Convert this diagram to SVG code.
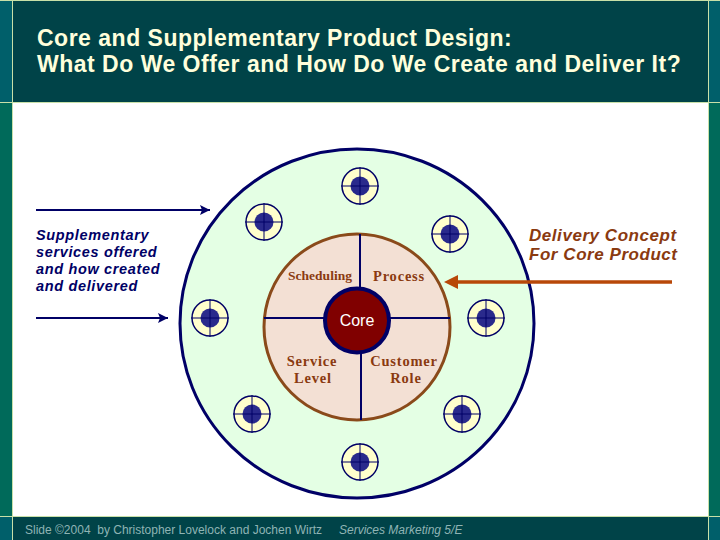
<svg xmlns="http://www.w3.org/2000/svg" width="720" height="540" viewBox="0 0 720 540">
<style>
.title{font:bold 23px "Liberation Sans",Arial,sans-serif;fill:#ffffdc;letter-spacing:.5px}
.side{font:italic bold 14.500px "Liberation Sans",Arial,sans-serif;fill:#000066;letter-spacing:.65px}
.del{font:italic bold 17px "Liberation Sans",Arial,sans-serif;fill:#8a3a10;letter-spacing:.55px}
.ser{font:bold 14.500px "Liberation Serif","Times New Roman",serif;fill:#8a3a10;text-anchor:middle;letter-spacing:.8px}
.foot{font:12px "Liberation Sans",Arial,sans-serif;fill:#8fb4b4}
.sp{stroke:#000066;stroke-width:2;fill:none}
.thin{stroke:#000066;stroke-width:1;fill:none}
.o{fill:#ffffcc;stroke:#000066;stroke-width:1.5}
.i{fill:#2a2a8c}
</style>
<defs>
<marker id="nav" markerWidth="10" markerHeight="10" refX="10" refY="5" orient="auto" markerUnits="userSpaceOnUse"><path d="M0 0L10 5L0 10L2 5Z" fill="#000066"/></marker>
<g id="sat"><circle class="o" r="18"/><circle class="i" r="9.500"/><path class="thin" d="M-19 0H19M0-19V19"/></g>
</defs>
<rect width="720" height="540" fill="#fff"/>
<g id="frame">
<rect x="0" y="0" width="720" height="102" fill="#004348"/>
<rect x="0" y="516" width="720" height="24" fill="#004348"/>
<rect x="0" y="0" width="12" height="102" fill="#005f6a"/>
<rect x="708" y="0" width="12" height="102" fill="#005f6a"/>
<rect x="0" y="102" width="12" height="414" fill="#006a5a"/>
<rect x="708" y="102" width="12" height="414" fill="#006a5a"/>
<rect x="0" y="516" width="12" height="24" fill="#005f6a"/>
<rect x="708" y="516" width="12" height="24" fill="#005f6a"/>
<path d="M0 .5H720M0 102.500H720M0 516.500H720M12.500 0V540M708.500 0V540" stroke="#c8e0a8" stroke-width="1" fill="none"/>
</g>
<g id="title"><text class="title" x="37" y="46">Core and Supplementary Product Design:</text><text class="title" x="37" y="72">What Do We Offer and How Do We Create and Deliver It?</text></g>
<g id="outer"><ellipse cx="357" cy="323.500" rx="177" ry="174.500" fill="#e4ffe4" stroke="#000066" stroke-width="3"/></g>
<g id="inner"><circle cx="357" cy="327" r="93" fill="#f3e0d4" stroke="#8a4a1a" stroke-width="3"/></g>
<g id="connectors">
<path class="sp" d="M360 234V290M361 352V420M264 318H326M390 318H450"/>
<path class="sp" d="M36 210H210" marker-end="url(#nav)"/>
<path class="sp" d="M36 318H168" marker-end="url(#nav)"/>
<path d="M672 282H456" stroke="#b84808" stroke-width="3.500" fill="none"/><path d="M444 282L458 275V289Z" fill="#b84808"/>
</g>
<g id="core"><circle cx="357" cy="320.500" r="32" fill="#800000" stroke="#000066" stroke-width="4"/><text x="357" y="326" text-anchor="middle" style="font:16px 'Liberation Sans',Arial,sans-serif" fill="#fff">Core</text></g>
<g id="sat1"><use href="#sat" x="360" y="186"/></g>
<g id="sat2"><use href="#sat" x="450" y="234"/></g>
<g id="sat3"><use href="#sat" x="486" y="318"/></g>
<g id="sat4"><use href="#sat" x="462" y="414"/></g>
<g id="sat5"><use href="#sat" x="360" y="462"/></g>
<g id="sat6"><use href="#sat" x="252" y="414"/></g>
<g id="sat7"><use href="#sat" x="210" y="318"/></g>
<g id="sat8"><use href="#sat" x="264" y="222"/></g>
<g id="labels">
<text class="ser" x="320" y="280" style="font-size:13.500px;letter-spacing:0">Scheduling</text><text class="ser" x="399" y="281">Process</text>
<text class="ser" x="312" y="366">Service</text><text class="ser" x="313" y="383">Level</text>
<text class="ser" x="404" y="366">Customer</text><text class="ser" x="406" y="383">Role</text>
<text class="side" x="36" y="240">Supplementary</text><text class="side" x="36" y="257">services offered</text><text class="side" x="36" y="274">and how created</text><text class="side" x="36" y="291">and delivered</text>
<text class="del" x="529" y="241">Delivery Concept</text><text class="del" x="529" y="260">For Core Product</text>
</g>
<g id="footer"><text class="foot" x="25" y="534" xml:space="preserve">Slide ©2004  by Christopher Lovelock and Jochen Wirtz</text><text class="foot" x="339" y="534" style="font-style:italic">Services Marketing 5/E</text></g>
</svg>
